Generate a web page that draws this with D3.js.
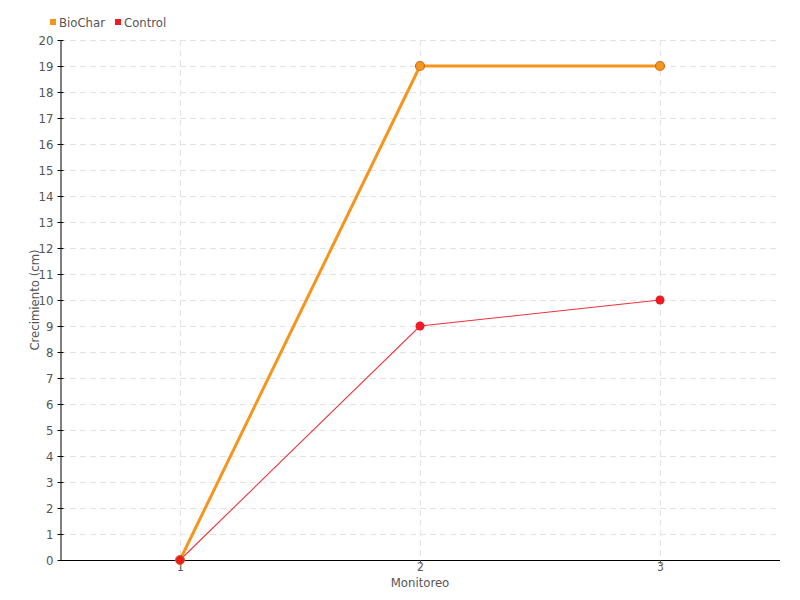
<!DOCTYPE html>
<html><head><meta charset="utf-8">
<script src="https://cdn.jsdelivr.net/npm/d3@7"></script>
<style>body{margin:0;background:#fff}svg text{font-family:"DejaVu Sans Condensed","Liberation Sans Narrow",sans-serif;fill:#555}</style>
</head><body><svg id="c" width="800" height="600"></svg>
<script>
const categories = ["1","2","3"];
const biochar = [0,19,19];
const control = [0,9,10];
const yTicks = d3.range(0,21);
const seriesNames = ["BioChar","Control"];
const colors = ["#f7941d","#ed1c24"];

const svg = d3.select("#c");
const m = {l:60,r:20,t:40,b:40};
const W=800,H=600;
const x = d3.scalePoint().domain(categories).range([m.l,W-m.r]).padding(0.5);
const y = d3.scaleLinear().domain([0,20]).range([H-m.b,m.t]);

// grid
svg.append("g").selectAll("line").data(yTicks.slice(1)).join("line")
 .attr("x1",m.l).attr("x2",W-m.r).attr("y1",d=>y(d)+0.5).attr("y2",d=>y(d)+0.5)
 .attr("stroke","#e3e3e3").attr("stroke-dasharray","6,4");
svg.append("g").selectAll("line").data(categories).join("line")
 .attr("x1",d=>x(d)+0.5).attr("x2",d=>x(d)+0.5).attr("y1",m.t).attr("y2",H-m.b)
 .attr("stroke","#e3e3e3").attr("stroke-dasharray","6,4");

// axes
const ya = svg.append("g").attr("transform",`translate(${m.l+0.5},0)`)
 .call(d3.axisLeft(y).tickValues(yTicks).tickSize(3).tickPadding(4).tickSizeOuter(0));
ya.selectAll(".tick line").attr("x2",3).attr("x1",-3).attr("stroke","#000");
ya.select(".domain").attr("stroke","#000");
ya.selectAll("text").style("font-size","13px").attr("dy","0.35em");
const xa = svg.append("g").attr("transform",`translate(0,${H-m.b+0.5})`)
 .call(d3.axisBottom(x).tickSize(3).tickSizeOuter(0));
xa.select(".domain").attr("stroke","#000").attr("d",`M${m.l},0H${W-m.r}`);
xa.selectAll(".tick line").attr("stroke","#555");
xa.selectAll("text").style("font-size","12px").attr("y",2);

svg.append("text").attr("x",(m.l+W-m.r)/2).attr("y",587).attr("text-anchor","middle")
 .style("font-size","13px").text("Monitoreo");
svg.append("text").attr("transform","translate(39,300) rotate(-90)").attr("text-anchor","middle")
 .style("font-size","13px").text("Crecimiento (cm)");

const line = d3.line().x((d,i)=>x(categories[i])).y(d=>y(d));
// control
svg.append("path").datum(control).attr("d",line).attr("fill","none").attr("stroke","#f0323c").attr("stroke-width",1.1);
// biochar
svg.append("path").datum(biochar).attr("d",line).attr("fill","none").attr("stroke","#f7941d").attr("stroke-width",3);
svg.append("g").selectAll("circle").data(control).join("circle")
 .attr("cx",(d,i)=>x(categories[i])).attr("cy",d=>y(d)).attr("r",4.5).attr("fill","#ed1c24");
svg.append("g").selectAll("circle").data(biochar).join("circle")
 .attr("cx",(d,i)=>x(categories[i])).attr("cy",d=>y(d)).attr("r",4.5)
 .attr("fill","#f7941d").attr("stroke","#c8701a").attr("stroke-width",1.2)
 .attr("display",(d,i)=>i===0?"none":null);
// overlapping point at 0: red on top
svg.append("circle").attr("cx",x(categories[0])).attr("cy",y(control[0])).attr("r",4.5)
 .attr("fill","#ed1c24").attr("stroke","#c8701a").attr("stroke-width",1);

// legend
const lg = svg.append("g");
let lx = 50;
seriesNames.forEach((n,i)=>{
 lg.append("rect").attr("x",lx).attr("y",19).attr("width",6).attr("height",6).attr("fill",colors[i]);
 const t = lg.append("text").attr("x",lx+9).attr("y",22).attr("dy","0.35em").style("font-size","13px").text(n);
 lx += t.node().getComputedTextLength()+9+10;
});
</script></body></html>
